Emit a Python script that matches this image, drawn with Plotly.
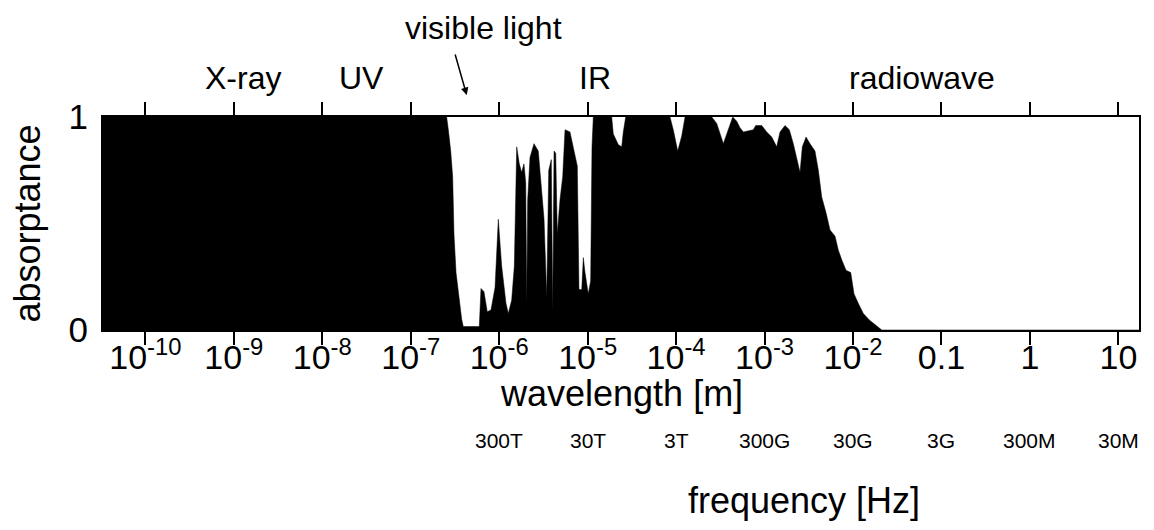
import math
import plotly.graph_objects as go

# log10 of wavelength [m] and absorptance
log_wavelength = [-11.0, -6.594, -6.575, -6.548, -6.526, -6.511, -6.488, -6.454, -6.424, -6.406,
                  -6.225, -6.206, -6.172, -6.135, -6.093, -6.047, -6.010, -5.972, -5.923, -5.897,
                  -5.859, -5.829, -5.802, -5.773, -5.746, -5.720, -5.700, -5.689, -5.678, -5.652,
                  -5.607, -5.558, -5.519, -5.493, -5.463, -5.440, -5.411, -5.395, -5.380, -5.361,
                  -5.343, -5.313, -5.282, -5.256, -5.200, -5.162, -5.117, -5.098, -5.067, -5.049,
                  -5.030, -4.993, -4.966, -4.951, -4.936, -4.747, -4.728, -4.710, -4.653, -4.615,
                  -4.597, -4.570, -4.069, -4.032, -3.982, -3.937, -3.899, -3.597, -3.541, -3.466,
                  -3.410, -3.360, -3.315, -3.278, -3.240, -3.127, -3.100, -3.032, -2.976, -2.919,
                  -2.863, -2.825, -2.769, -2.720, -2.675, -2.636, -2.599, -2.573, -2.531, -2.486,
                  -2.430, -2.392, -2.354, -2.305, -2.260, -2.203, -2.166, -2.128, -2.079, -2.026,
                  -1.989, -1.940, -1.884, -1.816, -1.763, -1.703, -1.675, 2.0]
absorptance = [1.0, 1.0, 0.94, 0.84, 0.72, 0.45, 0.27, 0.14, 0.05, 0.016,
               0.016, 0.195, 0.18, 0.086, 0.094, 0.2, 0.52, 0.3, 0.125, 0.078,
               0.14, 0.3, 0.86, 0.78, 0.74, 0.78, 0.69, 0.125, 0.61, 0.81,
               0.875, 0.84, 0.67, 0.52, 0.156, 0.75, 0.8, 0.086, 0.84, 0.83,
               0.45, 0.61, 0.72, 0.94, 0.93, 0.86, 0.77, 0.19, 0.19, 0.34,
               0.27, 0.17, 0.23, 0.86, 1.0, 1.0, 1.0, 0.92, 0.87, 0.86,
               0.93, 1.0, 1.0, 0.94, 0.84, 0.91, 1.0, 1.0, 0.97, 0.875,
               0.94, 1.0, 0.98, 0.95, 0.93, 0.94, 0.96, 0.96, 0.93, 0.906,
               0.86, 0.93, 0.96, 0.94, 0.875, 0.8, 0.74, 0.86, 0.906, 0.875,
               0.84, 0.75, 0.625, 0.55, 0.47, 0.44, 0.375, 0.33, 0.28, 0.27,
               0.17, 0.125, 0.078, 0.047, 0.028, 0.006, 0.0, 0.0]

wl_tick_vals = [1e-10, 1e-9, 1e-8, 1e-7, 1e-6, 1e-5, 1e-4, 1e-3, 1e-2, 0.1, 1, 10]
wl_tick_text = ["10<sup>-10</sup>", "10<sup>-9</sup>", "10<sup>-8</sup>", "10<sup>-7</sup>",
                "10<sup>-6</sup>", "10<sup>-5</sup>", "10<sup>-4</sup>", "10<sup>-3</sup>",
                "10<sup>-2</sup>", "0.1", "1", "10"]

freq_positions = [1e-6, 1e-5, 1e-4, 1e-3, 1e-2, 0.1, 1, 10]
freq_labels = ["300T", "30T", "3T", "300G", "30G", "3G", "300M", "30M"]

band_names = ["X-ray", "UV", "IR", "radiowave"]
band_positions = [1.27e-9, 2.81e-8, 1.21e-5, 6.03e-2]

wavelength = [10 ** v for v in log_wavelength]

FONT = "Liberation Sans, Arial, sans-serif"

fig = go.Figure()
fig.add_trace(go.Scatter(
    x=wavelength, y=absorptance, mode="lines",
    line=dict(color="black", width=0.5),
    fill="tozeroy", fillcolor="black",
    hoverinfo="skip", showlegend=False))

fig.update_layout(
    width=1154, height=530,
    margin=dict(l=103, r=15, t=117, b=200),
    paper_bgcolor="white", plot_bgcolor="white",
    font=dict(family=FONT, color="black"),
    showlegend=False,
)

fig.update_xaxes(
    type="log", range=[-10.479, 1.233],
    tickvals=wl_tick_vals, ticktext=wl_tick_text,
    ticks="outside", ticklen=13, tickwidth=1.5, tickcolor="black",
    showline=True, linewidth=2, linecolor="black", mirror="ticks",
    showgrid=False, zeroline=False,
    tickfont=dict(size=34, family=FONT, color="black"),
    ticklabelstandoff=-17,
)
fig.update_yaxes(
    range=[0, 1], tickvals=[0, 1], ticktext=["0", "1"],
    ticks="", showline=True, linewidth=2, linecolor="black", mirror=True,
    showgrid=False, zeroline=False,
    tickfont=dict(size=35, family=FONT, color="black"),
    ticklabelstandoff=6,
)

ann = []
for name, pos in zip(band_names, band_positions):
    ann.append(dict(x=math.log10(pos), y=1.183, xref="x", yref="paper",
                    text=name, showarrow=False, xanchor="center", yanchor="middle",
                    font=dict(size=32, family=FONT, color="black")))
ann.append(dict(x=-6.172, y=1.418, xref="x", yref="paper", text="visible light",
                showarrow=False, xanchor="center", yanchor="middle",
                font=dict(size=32, family=FONT, color="black")))
ann.append(dict(x=-6.367, y=1.103, xref="x", yref="paper", text="",
                showarrow=True, arrowhead=2, arrowsize=1, arrowwidth=1.5,
                arrowcolor="black", ax=-12, ay=-42))
for name, pos in zip(freq_labels, freq_positions):
    ann.append(dict(x=math.log10(pos), y=-0.521, xref="x", yref="paper",
                    text=name, showarrow=False, xanchor="center", yanchor="middle",
                    font=dict(size=21, family="Liberation Sans Narrow, Arial Narrow, Liberation Sans", color="black")))
ann.append(dict(x=0.5, y=-0.298, xref="paper", yref="paper", text="wavelength [m]",
                showarrow=False, xanchor="center", yanchor="middle",
                font=dict(size=36, family=FONT, color="black")))
ann.append(dict(x=(804 - 103) / 1036, y=-0.80, xref="paper", yref="paper", text="frequency [Hz]",
                showarrow=False, xanchor="center", yanchor="middle",
                font=dict(size=36, family=FONT, color="black")))
ann.append(dict(x=(27 - 103) / 1036, y=0.5, xref="paper", yref="paper", text="absorptance",
                showarrow=False, xanchor="center", yanchor="middle", textangle=-90,
                font=dict(size=36, family=FONT, color="black")))
fig.update_layout(annotations=ann)

fig.write_html("out.html")
